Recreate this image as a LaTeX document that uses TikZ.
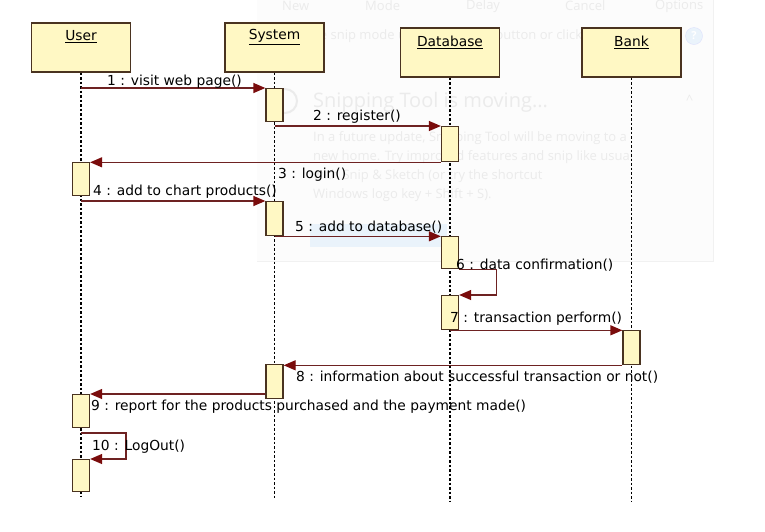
\documentclass[tikz,border=0pt]{standalone}
\usepackage{fontspec}
\setmainfont{DejaVu Sans}
\newfontfamily\uifont{Open Sans}
\usetikzlibrary{arrows.meta}
\definecolor{boxfill}{HTML}{FFF8C4}
\definecolor{boxline}{HTML}{4A3320}
\definecolor{msgline}{HTML}{6E2222}
\definecolor{tipfill}{HTML}{7A0C0C}
\definecolor{ghost}{HTML}{EBEBEB}
\definecolor{panelbg}{HTML}{FCFCFC}
\definecolor{hilite}{HTML}{EAF3FB}
\begin{document}
\begin{tikzpicture}[x=1pt,y=-1pt,
  objbox/.style={draw=boxline, fill=boxfill, line width=1.3pt, minimum width=99pt, minimum height=49pt, inner sep=0pt},
  objname/.style={font=\fontsize{13.8}{16}\selectfont, inner sep=0pt, text=black},
  act/.style={draw=boxline, fill=boxfill, line width=1.3pt, minimum width=17pt, inner sep=0pt, anchor=north},
  lifeline/.style={line width=1.5pt, dash pattern=on 2.5pt off 2pt, black},
  msg/.style={draw=msgline, line width=1.3pt, -{Triangle[length=12pt,width=10pt,fill=tipfill,color=tipfill]}},
  lbl/.style={font=\fontsize{13.8}{16}\selectfont, anchor=west, inner sep=0pt, text=black},
  ghosttxt/.style={font=\uifont\fontsize{13}{15}\selectfont, text=ghost, anchor=west, inner sep=0pt}]
\useasboundingbox (0,0) rectangle (765,531);
\fill[white] (0,0) rectangle (765,531);
% faint Snipping Tool overlay
\fill[panelbg] (257,0) rectangle (713,261);
\draw[ghost!70, line width=0.6pt] (713,0) -- (713,261) -- (257,261);
\fill[hilite] (310,224) rectangle (447,247);
\node[ghosttxt] (g1) at (282,6) {New};
\node[ghosttxt] (g2) at (365,6) {Mode};
\node[ghosttxt] (g3) at (466,6) {Delay};
\node[ghosttxt] (g4) at (565,6) {Cancel};
\node[ghosttxt] (g5) at (655,6) {Options};
\node[ghosttxt] (g6) at (268,36) {Select the snip mode using the Mode button or click the New};
\node[ghosttxt] (g7) at (268,55) {button.};
\node[draw=hilite!80!blue!50, fill=hilite, circle, minimum size=17pt, inner sep=0pt, text=white, font=\uifont\bfseries\fontsize{11}{12}\selectfont] (g8) at (694,36) {?};
\node[draw=ghost, circle, line width=2pt, minimum size=24pt, inner sep=0pt] (g9) at (285,101) {};
\node[ghosttxt, font=\uifont\fontsize{20}{24}\selectfont] (g10) at (313,102) {Snipping Tool is moving...};
\node[ghosttxt] (g11) at (686,100) {\^{}};
\node[ghosttxt] (g12) at (313,138) {In a future update, Snipping Tool will be moving to a};
\node[ghosttxt] (g13) at (313,157) {new home. Try improved features and snip like usual};
\node[ghosttxt] (g14) at (313,176) {with Snip \& Sketch (or try the shortcut};
\node[ghosttxt] (g15) at (313,195) {Windows logo key + Shift + S).};
% objects
\node[objbox] (user) at (81,47.5) {};
\node[objname] (userl) at (81,37) {\underline{User}};
\node[objbox] (sys) at (274.5,47.5) {};
\node[objname] (sysl) at (274.5,37) {\underline{System}};
\node[objbox] (db) at (450,52.5) {};
\node[objname] (dbl) at (450,42) {\underline{Database}};
\node[objbox] (bank) at (631.5,52.5) {};
\node[objname] (bankl) at (631.5,42) {\underline{Bank}};
% lifelines
\coordinate (userEnd) at (81,497);
\coordinate (sysEnd) at (274.5,498);
\coordinate (dbEnd) at (450,502);
\coordinate (bankEnd) at (631.5,502);
\draw[lifeline] (user.south) -- (userEnd);
\draw[lifeline] (sys.south) -- (sysEnd);
\draw[lifeline] (db.south) -- (dbEnd);
\draw[lifeline] (bank.south) -- (bankEnd);
% activations
\node[act, minimum height=33pt] (aS1) at (274.5,88) {};
\node[act, minimum height=35pt] (aD1) at (450,126) {};
\node[act, minimum height=33pt] (aU1) at (81,162) {};
\node[act, minimum height=34pt] (aS2) at (274.5,201) {};
\node[act, minimum height=32pt] (aD2) at (450,236) {};
\node[act, minimum height=34pt] (aD3) at (450,295) {};
\node[act, minimum height=34pt] (aB1) at (631.5,330) {};
\node[act, minimum height=34pt] (aS3) at (274.5,364) {};
\node[act, minimum height=33pt] (aU2) at (81,394) {};
\node[act, minimum height=32pt] (aU3) at (81,459) {};
% messages
\coordinate (m1s) at (81,88);
\draw[msg] (m1s) -- (aS1.north west);
\draw[msg] (aS1.south |- aD1.north west) -- (aD1.north west);
\draw[msg] (aD1.south west) -- (aD1.south west -| aU1.east);
\draw[msg] (aU1.south |- aS2.north west) -- (aS2.north west);
\draw[msg] (aS2.south) -- (aS2.south -| aD2.west);
\draw[msg] (aD2.south east) -- ++(37,0) |- (aD3.north east);
\draw[msg] (aD3.south) -- (aD3.south -| aB1.west);
\draw[msg] (aB1.south west) -- (aB1.south west -| aS3.east);
\draw[msg] (aS3.west |- aU2.north) -- (aU2.north east);
\coordinate (m10s) at (81,433);
\draw[msg] (m10s) -- ++(45,0) |- (aU3.north east);
% labels
\node[lbl] (l1) at (107,82) {1 : visit web page()};
\node[lbl] (l2) at (313,117) {2 : register()};
\node[lbl] (l3) at (278,175) {3 : login()};
\node[lbl] (l4) at (93,192) {4 : add to chart products()};
\node[lbl] (l5) at (295,227) {5 : add to database()};
\node[lbl] (l6) at (456,265) {6 : data confirmation()};
\node[lbl] (l7) at (450,319) {7 : transaction perform()};
\node[lbl] (l8) at (296,377) {8 : information about successful transaction or not()};
\node[lbl] (l9) at (91,407) {9 : report for the products purchased and the payment made()};
\node[lbl] (l10) at (92,447) {10 : LogOut()};
\end{tikzpicture}
\end{document}
